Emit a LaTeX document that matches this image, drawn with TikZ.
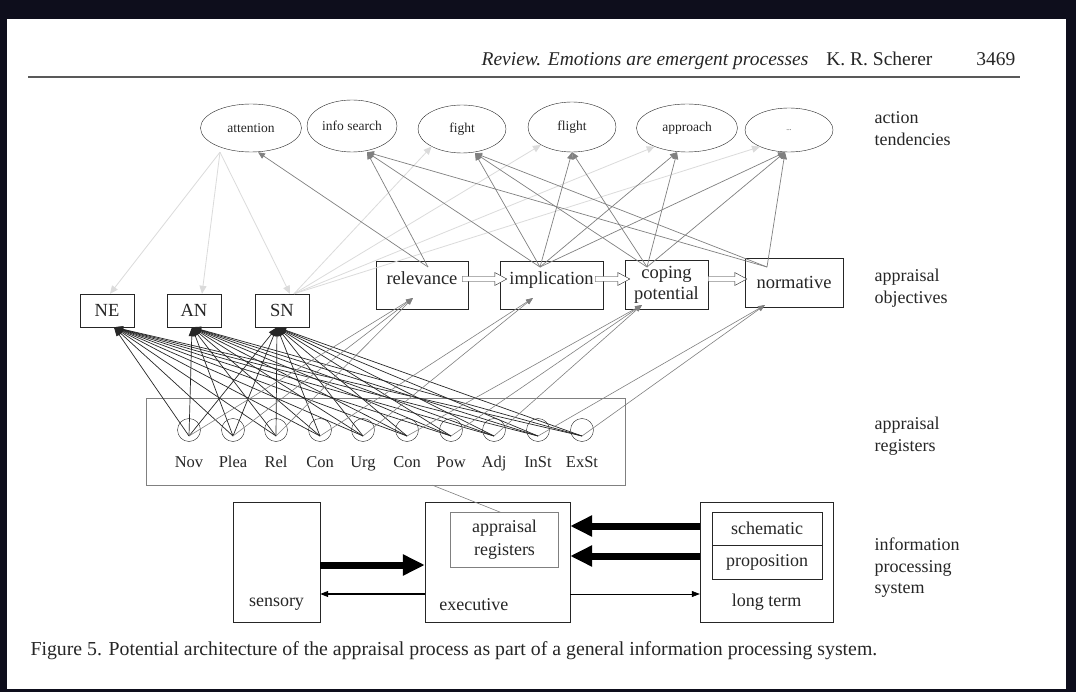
\documentclass[tikz,border=0pt]{standalone}
\usepackage{fontspec}
\setmainfont{Liberation Serif}
\usetikzlibrary{arrows.meta,shapes.geometric,calc}
\definecolor{pagebg}{HTML}{0E0E1C}
\definecolor{inkgray}{gray}{0.15}
\definecolor{linegray}{gray}{0.5}
\definecolor{fadegray}{gray}{0.86}

\newcommand{\hollowarrow}[2]{%
  \draw[inkgray, fill=white] let \p1=#1, \p2=#2 in
    (\x1,\y1+2.5pt) -- (\x2-12pt,\y1+2.5pt) -- (\x2-12pt,\y1+6.5pt) -- (\x2,\y1)
    -- (\x2-12pt,\y1-6.5pt) -- (\x2-12pt,\y1-2.5pt) -- (\x1,\y1-2.5pt) -- cycle;}

\begin{document}
\begin{tikzpicture}[x=1pt, y=-1pt,
    tend/.style={ellipse, draw=inkgray, inner sep=0pt, minimum width=88pt, minimum height=48pt, text=inkgray, font=\fontsize{13.5}{15}\selectfont},
    goal/.style={rectangle, draw=inkgray, inner sep=0pt, minimum height=48pt, text=inkgray, font=\fontsize{18.5}{21}\selectfont},
    net/.style={rectangle, draw=inkgray, inner sep=0pt, minimum width=54pt, minimum height=33pt, text=inkgray, font=\fontsize{18.5}{20}\selectfont},
    reg/.style={circle, draw=inkgray, inner sep=0pt, minimum size=23pt},
    regname/.style={anchor=base, text=inkgray, font=\fontsize{16.5}{18}\selectfont},
    store/.style={rectangle, draw=inkgray, inner sep=0pt, minimum height=120pt, text=inkgray, font=\fontsize{18}{23}\selectfont},
    side/.style={anchor=west, align=left, text=inkgray, font=\fontsize{18}{22}\selectfont},
    toreg/.style={draw=black!85, line width=0.7pt, -{Triangle[length=9pt,width=6pt]}},
    toobj/.style={draw=linegray, line width=0.6pt, -{Triangle[length=7pt,width=5pt]}},
    totend/.style={draw=linegray, line width=0.7pt, -{Triangle[length=7pt,width=6pt]}},
    faint/.style={draw=fadegray, line width=0.8pt, -{Triangle[length=8pt,width=7pt]}},
    bigarrow/.style={draw=black, line width=7pt, -{Triangle[length=22pt,width=20pt]}},
    thinarrow/.style={draw=black, -{Triangle[length=8pt,width=6pt]}}
]
    \fill[pagebg] (0,0) rectangle (1076,692);
    \fill[white] (7,19) rectangle (1066,689);

    \node[anchor=east, text=inkgray, font=\fontsize{19.5}{21}\selectfont] (head) at (1019,61)
        {\textit{Review. Emotions are emergent processes}\hspace{18pt}K. R. Scherer\hspace{44pt}3469};
    \draw[gray!70!black, line width=1.6pt] (28,77) -- (1020,77);

    \node[tend, minimum width=101pt] (att) at (251,128) {attention};
    \node[tend, minimum width=90pt, minimum height=52pt] (info) at (352,126) {info search};
    \node[tend] (fight) at (462,129) {fight};
    \node[tend, minimum height=50pt] (flight) at (572,127) {flight};
    \node[tend, minimum width=101pt] (appr) at (687,128) {approach};
    \node[tend, minimum height=44pt, font=\scriptsize] (more) at (789,130) {...};

    \node[goal, minimum width=92pt, text depth=14pt] (rel) at (422,285) {relevance};
    \node[goal, minimum width=103pt, text depth=14pt] (imp) at (551.5,285) {implication};
    \node[goal, minimum width=83pt, minimum height=49pt, align=center] (cop) at (666.5,284.5) {coping\\potential};
    \node[goal, minimum width=98pt, minimum height=49pt] (norm) at (794,282.5) {normative};

    \hollowarrow{([xshift=-6pt,yshift=6pt]rel.east)}{([xshift=7pt,yshift=6pt]imp.west)}
    \hollowarrow{([xshift=-8pt,yshift=6pt]imp.east)}{([xshift=5pt,yshift=5.5pt]cop.west)}
    \hollowarrow{([yshift=5.5pt]cop.east)}{([xshift=2pt,yshift=3.5pt]norm.west)}

    \node[net] (ne) at (107,310.5) {NE};
    \node[net] (an) at (194,310.5) {AN};
    \node[net] (sn) at (282,310.5) {SN};

    \node[draw=linegray, inner sep=0pt, minimum width=479pt, minimum height=87pt] (regbox) at (385.5,441.5) {};
    \foreach \i/\x/\name in {1/189/Nov, 2/233/Plea, 3/276/Rel, 4/320/Con, 5/363/Urg,
                             6/407/Con, 7/451/Pow, 8/494/Adj, 9/538/InSt, 10/582/ExSt} {
        \node[reg] (r\i) at (\x,430) {};
        \node[regname] (l\i) at (\x,467) {\name};
    }

    \coordinate (relin) at (413,298);
    \coordinate (impin) at (533,298);
    \coordinate (copin) at (642,305);
    \coordinate (normin) at (765,305);
    \coordinate (relout) at (428,267);
    \coordinate (impout) at (540,267);
    \coordinate (copout) at (647,267);
    \coordinate (normout) at (767,267);

    \draw[faint] ([xshift=-31pt]att.south) -- ([xshift=3pt]ne.north);
    \draw[faint] ([xshift=-31pt]att.south) -- ([xshift=8pt]an.north);
    \draw[faint] ([xshift=-31pt]att.south) -- ([xshift=8pt]sn.north);
    \foreach \t in {fight,flight,appr,more}
        \draw[faint] ([xshift=12pt]sn.north) -- (\t.210);

    \foreach \i in {1,...,10} {
        \draw[toreg] ([yshift=-6pt]r\i.center) -- ([xshift=7pt]ne.south);
        \draw[toreg] ([yshift=-6pt]r\i.center) -- ([xshift=-2pt]an.south);
        \draw[toreg] ([yshift=-6pt]r\i.center) -- ([xshift=-5pt]sn.south);
    }
    \foreach \i/\t in {1/relin, 2/relin, 3/relin, 4/impin, 5/impin,
                       6/copin, 7/copin, 8/copin, 9/normin, 10/normin}
        \draw[toobj] ([yshift=-6pt]r\i.center) -- (\t);

    \draw[totend] (relout) -- ([xshift=7pt]att.south);
    \draw[totend] (relout) -- ([xshift=15pt]info.south);
    \foreach \t/\s in {info/15pt, fight/13pt, flight/0pt, appr/-10pt, more/-4pt}
        \draw[totend] (impout) -- ([xshift=\s]\t.south);
    \foreach \t/\s in {fight/13pt, flight/0pt, appr/-10pt, more/-4pt}
        \draw[totend] (copout) -- ([xshift=\s]\t.south);
    \foreach \t/\s in {info/15pt, fight/13pt, more/-4pt}
        \draw[totend] (normout) -- ([xshift=\s]\t.south);

    \node[store, minimum width=87pt, label={[name=senslab, anchor=south, yshift=8pt, text=inkgray, font=\fontsize{18}{20}\selectfont]south:sensory}] (sens) at (276.5,562) {};
    \node[store, minimum width=145pt, label={[name=execlab, anchor=south west, xshift=11pt, yshift=8pt, text=inkgray, font=\fontsize{18}{20}\selectfont]south west:executive}] (exec) at (497.5,562) {};
    \node[store, minimum width=133pt, label={[name=ltlab, anchor=south, yshift=8pt, text=inkgray, font=\fontsize{18}{20}\selectfont]south:long term}] (lt) at (766.5,562) {};
    \node[store, draw=linegray, minimum width=108pt, minimum height=55pt, align=center] (areg) at (504.5,540) {appraisal\\registers};
    \node[store, minimum width=110pt, minimum height=33pt] (sch) at (767,528.5) {schematic};
    \node[store, minimum width=110pt, minimum height=34pt] (prop) at (767,562) {proposition};

    \draw[linegray, line width=0.6pt] ([xshift=47pt]regbox.south) -- ([xshift=-4pt]areg.north);
    \draw[bigarrow] ([yshift=36pt]lt.west) -- ([yshift=36pt]exec.east);
    \draw[bigarrow] ([yshift=6pt]lt.west) -- ([yshift=6pt]exec.east);
    \draw[bigarrow] ([yshift=-3pt]sens.east) -- ([yshift=-3pt]exec.west);
    \draw[thinarrow, line width=1.2pt] ([yshift=-32pt]exec.west) -- ([yshift=-32pt]sens.east);
    \draw[thinarrow, line width=0.6pt] ([yshift=-32pt]exec.east) -- ([yshift=-32pt]lt.west);

    \node[side] (tendlab) at (871,129) {action\\tendencies};
    \node[side] (objlab) at (871,288) {appraisal\\objectives};
    \node[side] (reglab) at (871,436) {appraisal\\registers};
    \node[side, font=\fontsize{18}{21.5}\selectfont] (syslab) at (871,568) {information\\processing\\system};

    \node[anchor=west, text=inkgray, font=\fontsize{19.8}{22}\selectfont] (caption) at (27,651)
        {Figure 5. Potential architecture of the appraisal process as part of a general information processing system.};
\end{tikzpicture}
\end{document}
